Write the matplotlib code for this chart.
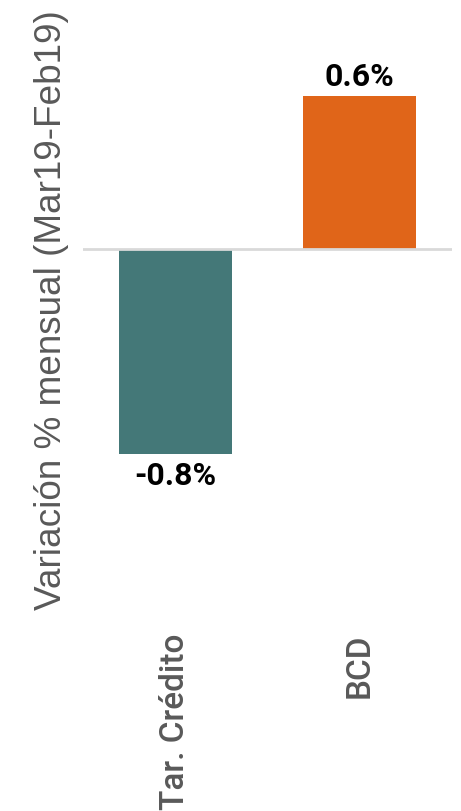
import matplotlib
matplotlib.use("Agg")
import matplotlib.pyplot as plt

plt.rcParams['font.family'] = ['Roboto', 'DejaVu Sans']

categories = ['Tar. Crédito', 'BCD']
values = [-0.8, 0.6]
value_labels = ['-0.8%', '0.6%']
colors = ['#447878', '#e06519']

fig = plt.figure(figsize=(4.61, 8.12), dpi=100)
ax = fig.add_axes([83 / 461, 1 - 620 / 812, 369 / 461, 560 / 812])

x = list(range(len(categories)))
bars = ax.bar(x, values, width=0.61, color=colors, zorder=2)
ax.axhline(0, color='#d9d9d9', lw=2, zorder=3)

# etiquetas de valor sobre / bajo cada barra
for xi, v, lab in zip(x, values, value_labels):
    if v >= 0:
        ax.text(xi, v + 0.043, lab, ha='center', va='baseline', fontsize=23,
                fontweight='bold', color='black')
    else:
        ax.text(xi, v - 0.118, lab, ha='center', va='baseline', fontsize=23,
                fontweight='bold', color='black')

ax.set_xlim(-0.5, 1.5)
ax.set_ylim(-1.447, 0.745)
ax.set_yticks([])
ax.set_xticks(x)
ax.set_xticklabels(categories, rotation=90, fontsize=24, fontweight='medium',
                   color='#595959')
ax.tick_params(axis='x', length=0, pad=10)
for s in ax.spines.values():
    s.set_visible(False)

fig.text(52 / 461, 1 - 310 / 812, 'Variación % mensual (Mar19-Feb19)',
         rotation=90, ha='center', va='center', fontsize=26.6,
         color='#595959', family=['Liberation Sans', 'DejaVu Sans'])

fig.savefig('out.png', dpi=100)
